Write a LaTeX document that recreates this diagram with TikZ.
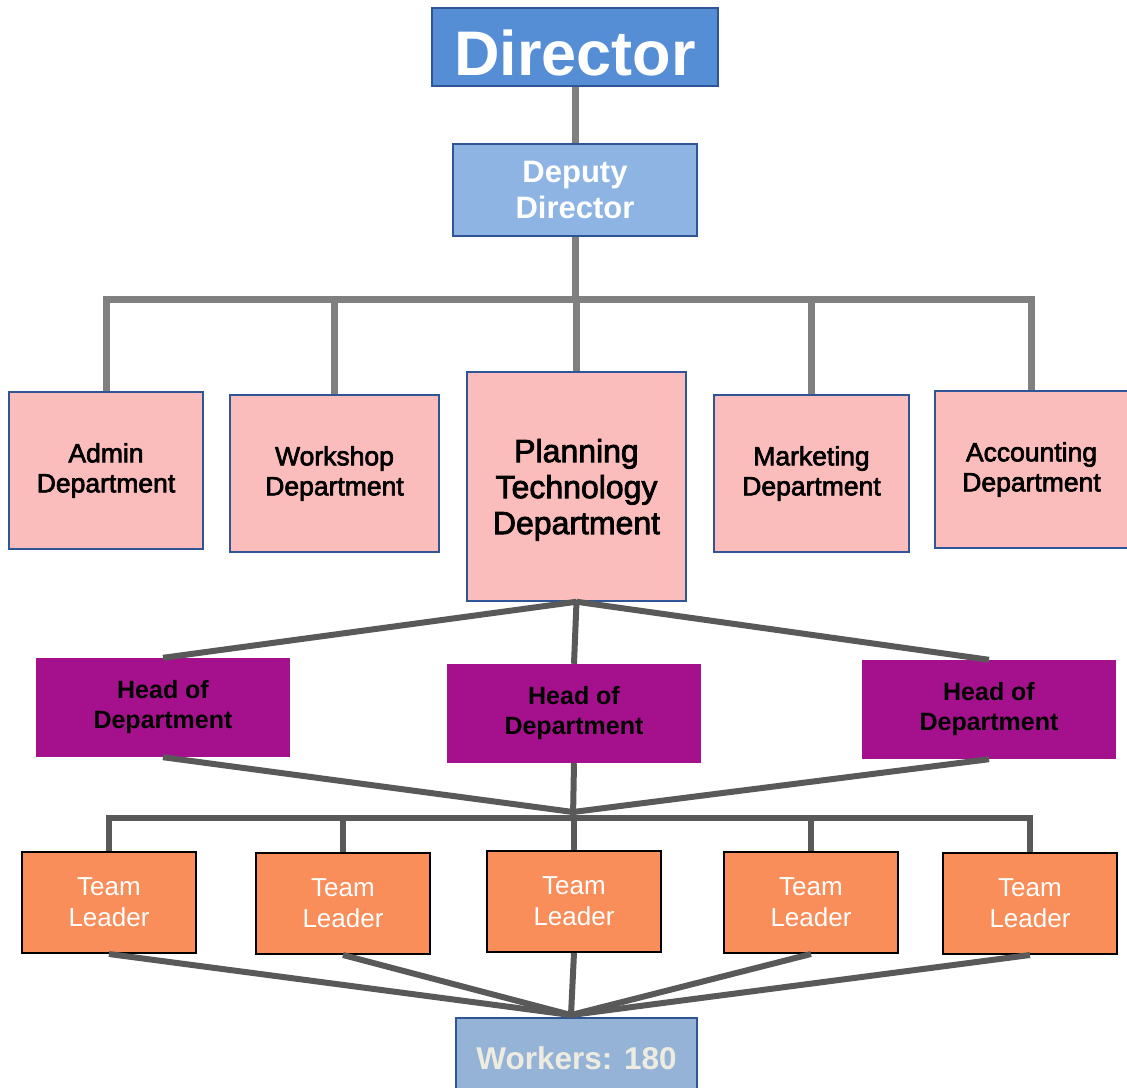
\documentclass[tikz,border=0pt]{standalone}
\usepackage{fontspec}
\setmainfont{Liberation Sans}
\newfontfamily\inkfont[FakeBold=2.5]{Liberation Sans}
\usepackage{xcolor}
\usetikzlibrary{positioning}
\definecolor{dirblue}{HTML}{558ED5}
\definecolor{depblue}{HTML}{8EB4E3}
\definecolor{wrkblue}{HTML}{95B3D7}
\definecolor{edgeblue}{HTML}{2F5597}
\definecolor{deptpink}{HTML}{FBBDBB}
\definecolor{headpurple}{HTML}{A5108C}
\definecolor{teamorange}{HTML}{F98E5A}
\definecolor{wrktext}{HTML}{EEECE1}

\begin{document}
\begin{tikzpicture}[x=1pt,y=-1pt,
 box/.style={draw=edgeblue,line width=1.5pt,align=center,inner sep=0pt},
 boss/.style={box,fill=dirblue,text=white,font=\fontsize{63}{70}\selectfont\bfseries,text height=56pt,text depth=0pt},
 deputy/.style={box,fill=depblue,text=white,font=\fontsize{31}{36}\selectfont\bfseries},
 dept/.style={box,fill=deptpink,font=\inkfont\fontsize{26.5}{30}\selectfont},
 head/.style={fill=headpurple,align=center,inner sep=0pt,minimum width=254pt,minimum height=99pt,font=\fontsize{25}{30}\selectfont\bfseries},
 team/.style={draw=black,line width=2pt,fill=teamorange,text=white,align=center,inner sep=0pt,minimum width=174pt,minimum height=101pt,font=\fontsize{26}{31}\selectfont},
 crew/.style={box,fill=wrkblue,text=wrktext,font=\fontsize{31.5}{36}\selectfont\bfseries},
 trunk/.style={draw=black!50,line width=7pt},
 branch/.style={draw=black!65,line width=6pt}]
 \useasboundingbox (0,0) rectangle (1127,1087);

 \node[boss,minimum width=286pt,minimum height=78pt] (director) at (575,47) {Director};
 \node[deputy,minimum width=244pt,minimum height=92pt] (deputy) at (575,190) {Deputy\\Director};

 \node[dept,minimum width=194pt,minimum height=157pt] (admin) at (106,470.5) {Admin\\Department};
 \node[dept,minimum width=209pt,minimum height=157pt] (workshop) at (334.5,473.5) {Workshop\\Department};
 \node[dept,minimum width=219pt,minimum height=229pt,text depth=0pt,font=\inkfont\fontsize{32}{36}\selectfont] (planning) at (576.5,486.5) {Planning\\Technology\\Department};
 \node[dept,minimum width=195pt,minimum height=157pt] (marketing) at (811.5,473.5) {Marketing\\Department};
 \node[dept,minimum width=193pt,minimum height=157pt] (accounting) at (1031.5,469.5) {Accounting\\Department};

 \node[head] (head1) at (163,707.5) {Head of\\Department};
 \node[head] (head2) at (574,713.5) {Head of\\Department};
 \node[head] (head3) at (989,709.5) {Head of\\Department};

 \node[team] (team1) at (109,902.5) {Team\\Leader};
 \node[team] (team2) at (343,903.5) {Team\\Leader};
 \node[team] (team3) at (574,901.5) {Team\\Leader};
 \node[team] (team4) at (811,902.5) {Team\\Leader};
 \node[team] (team5) at (1030,903.5) {Team\\Leader};

 \node[crew,minimum width=241pt,minimum height=80pt] (workers) at (576.5,1058) {Workers: 180};

 \coordinate (busA) at (573,299);
 \coordinate (hub) at (573,812);
 \coordinate (busB) at (573,818);
 \coordinate (sink) at (571,1015);

 % upper tree
 \draw[trunk] (director) -- (deputy);
 \draw[trunk] (deputy.south) -- (deputy.south |- busA);
 \draw[trunk] (admin.north) -- (admin.north |- busA) -- (accounting.north |- busA) -- (accounting.north);
 \foreach \d in {workshop,planning,marketing}
  \draw[trunk] (\d.north) -- (\d.north |- busA);

 % lower tree
 \foreach \h in {head1,head2,head3}
  \draw[branch] (planning.south) -- (\h.north);
 \draw[branch] (head1.south) -- (hub);
 \draw[branch] (head3.south) -- (hub);
 \draw[branch] (head2.south) -- (busB);
 \draw[branch] (team1.north) -- (team1.north |- busB) -- (team5.north |- busB) -- (team5.north);
 \foreach \t in {team2,team3,team4}
  \draw[branch] (\t.north) -- (\t.north |- busB);
 \foreach \t in {team1,team2,team3,team4,team5}
  \draw[branch] (\t.south) -- (sink);
\end{tikzpicture}
\end{document}
